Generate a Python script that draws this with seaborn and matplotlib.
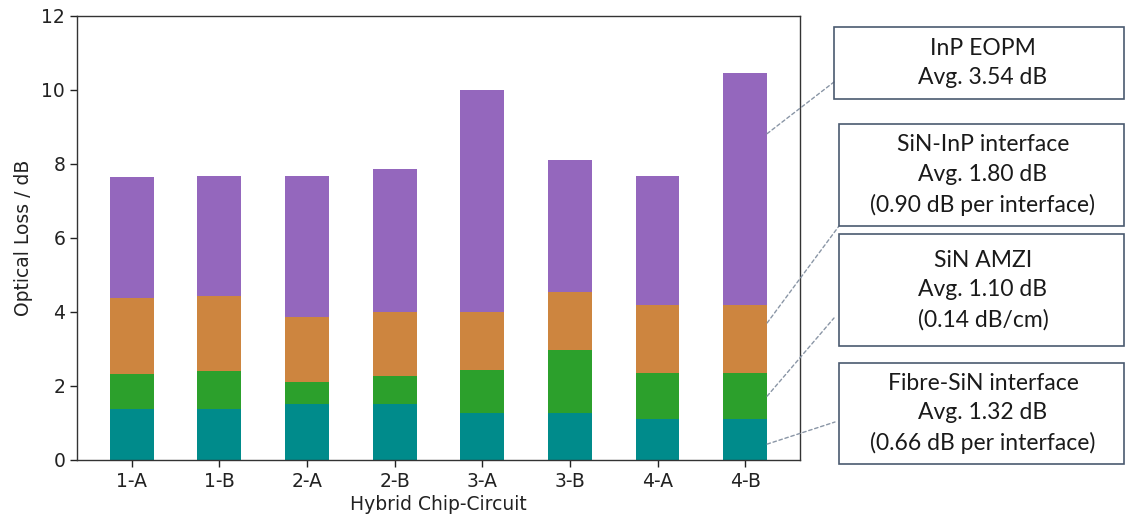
import numpy as np
import pandas as pd
import matplotlib
matplotlib.use("Agg")
import matplotlib.pyplot as plt
import seaborn as sns
from matplotlib.patches import Rectangle

# ---- data ----
circuits = ["1-A", "1-B", "2-A", "2-B", "3-A", "3-B", "4-A", "4-B"]
fibre_sin = [1.37, 1.37, 1.52, 1.52, 1.28, 1.28, 1.10, 1.10]
sin_amzi = [0.96, 1.03, 0.59, 0.75, 1.15, 1.69, 1.25, 1.25]
sin_inp = [2.06, 2.04, 1.75, 1.74, 1.56, 1.56, 1.83, 1.83]
inp_eopm = [3.26, 3.23, 3.82, 3.85, 6.01, 3.59, 3.50, 6.27]

box_texts = [
    "InP EOPM\nAvg. 3.54 dB",
    "SiN-InP interface\nAvg. 1.80 dB\n(0.90 dB per interface)",
    "SiN AMZI\nAvg. 1.10 dB\n(0.14 dB/cm)",
    "Fibre-SiN interface\nAvg. 1.32 dB\n(0.66 dB per interface)",
]

colors = {"fibre": "#008b8b", "amzi": "#2ca02c", "sininp": "#cd853f", "eopm": "#9467bd"}

sns.set_theme(style="white")
plt.rcParams["font.family"] = ["DejaVu Sans"]

df = pd.DataFrame({
    "circuit": circuits,
    "fibre": fibre_sin,
    "amzi": sin_amzi,
    "sininp": sin_inp,
    "eopm": inp_eopm,
})
df["c1"] = df["fibre"]
df["c2"] = df["c1"] + df["amzi"]
df["c3"] = df["c2"] + df["sininp"]
df["c4"] = df["c3"] + df["eopm"]

fig = plt.figure(figsize=(11.25, 5.19), dpi=100)
ax = fig.add_axes([0.0684, 0.1137, 0.6427, 0.8555])

for col, key in [("c4", "eopm"), ("c3", "sininp"), ("c2", "amzi"), ("c1", "fibre")]:
    sns.barplot(data=df, x="circuit", y=col, color=colors[key], width=0.5,
                saturation=1, ax=ax, linewidth=0, order=circuits)

ax.set_xlim(-0.625, 7.625)
ax.set_ylim(0, 12)
ax.set_yticks([0, 2, 4, 6, 8, 10, 12])
ax.set_xlabel("Hybrid Chip-Circuit", fontsize=13.5, color="#222222", labelpad=3)
ax.set_ylabel("Optical Loss / dB", fontsize=13.5, color="#222222", labelpad=6)
ax.tick_params(axis="both", labelsize=13.5, colors="#222222", length=5, width=1,
               bottom=True, left=True, direction="out")
for s in ax.spines.values():
    s.set_visible(True)
    s.set_color("#333333")
    s.set_linewidth(1.0)

# ---- annotation boxes (figure pixel coords -> fraction) ----
W, H = 1125, 519
boxes = [  # x0, y0(top), x1, y1(bottom) in px
    (834, 27, 1124, 99),
    (839, 124, 1124, 226),
    (839, 234, 1124, 346),
    (839, 363, 1124, 464),
]
for (x0, yt, x1, yb), txt in zip(boxes, box_texts):
    rect = Rectangle((x0 / W, 1 - yb / H), (x1 - x0) / W, (yb - yt) / H,
                     transform=fig.transFigure, fill=False, edgecolor="#4a5a70",
                     linewidth=1.2)
    fig.patches.append(rect)
    fig.text(983 / W, 1 - (yt + yb) / 2 / H, txt, ha="center", va="center",
             fontsize=16.5, family="Lato", color="#1a1a1a", linespacing=1.5)

# ---- dashed connectors from last bar ----
last = len(circuits) - 1
xr = last + 0.25
lows = [df["c3"][last], df["c2"][last], df["c1"][last], 0.0]
highs = [df["c4"][last], df["c3"][last], df["c2"][last], df["c1"][last]]
fracs = [0.74, 0.74, 0.50, 0.39]
targets = [(834, 82), (839, 226), (834, 318), (835, 422)]
for lo, hi, f, (tx, ty) in zip(lows, highs, fracs, targets):
    yv = lo + f * (hi - lo)
    ax.annotate("", xy=(tx / W, 1 - ty / H), xycoords="figure fraction",
                xytext=(xr, yv), textcoords="data",
                arrowprops=dict(arrowstyle="-", linestyle=(0, (2.5, 2)),
                                color="#8a96a6", linewidth=1.0,
                                shrinkA=0, shrinkB=0),
                annotation_clip=False)

fig.savefig("out.png", dpi=100)
